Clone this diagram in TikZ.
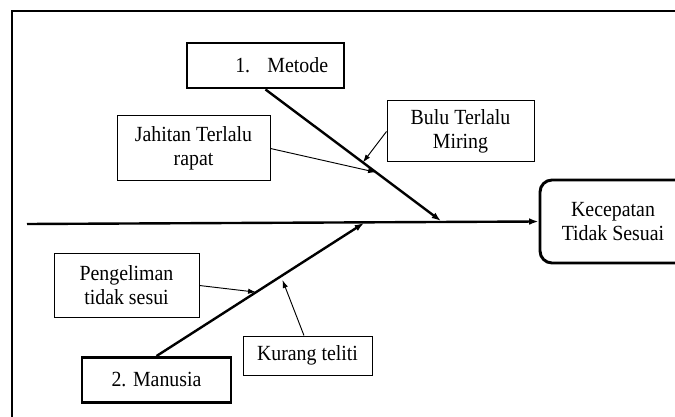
\documentclass[tikz,border=0pt]{standalone}
\usepackage{fontspec}
\setmainfont{Liberation Serif}[FakeStretch=0.92]
\usetikzlibrary{arrows.meta,calc,positioning}

\begin{document}
\begin{tikzpicture}[x=0.75pt,y=-0.75pt,
  font=\fontsize{16.2}{18}\selectfont,
  ukuran/.style 2 args={minimum width=#1*0.75pt,minimum height=#2*0.75pt},
  kotak/.style={draw,line width=0.75pt,align=center,inner sep=0pt},
  kategori/.style={kotak,line width=2.2pt},
  tulang/.style={line width=1.8pt,-{Latex[length=7pt,width=5pt]}},
  panah/.style={line width=0.7pt,-{Latex[length=6pt,width=4pt]}}]
%Koordinaten in Pixel des Bildes (675x417), y zeigt nach unten
\useasboundingbox (0,0) rectangle (675,417);
\draw[line width=1.1pt] (12,425) |- (685,11);
%Kopf und Ursachen
\node[kategori,rounded corners=9pt,ukuran={160}{83}] (kecepatan) at (620,221.5) {Kecepatan\hspace*{10.5pt}\\Tidak Sesuai\hspace*{10.5pt}};
\node[kategori,ukuran={157}{45}] (metode) at (265.5,65.5) {\hspace*{1.5em}1.\hspace{0.8em}Metode};
\node[kategori,ukuran={149}{45}] (manusia) at (156.5,380) {2. Manusia};
\node[kotak,ukuran={153}{65}] (jahitan) at (193.5,148.5) {Jahitan Terlalu\\rapat};
\node[kotak,ukuran={147}{61}] (bulu) at (460.5,131.5) {Bulu Terlalu\\Miring};
\node[kotak,ukuran={145}{63}] (pengeliman) at (126.5,285.5) {Pengeliman\\tidak sesui};
\node[kotak,ukuran={129}{39}] (kurang) at (307.5,355.5) {Kurang teliti};
%Gräten
\coordinate (ekor) at (27,224);
\coordinate (m1) at (441,221);
\coordinate (m2) at (364,223);
\draw[tulang] (ekor) -- (kecepatan.west);
\draw[tulang] (metode.south) -- (m1);
\draw[tulang] (manusia.north) -- (m2);
%Punkte auf den Gräten
\coordinate (j) at ($(metode.south)!0.63!(m1)$);
\coordinate (b) at ($(metode.south)!0.555!(m1)$);
\coordinate (p) at ($(manusia.north)!0.48!(m2)$);
\coordinate (k) at ($(manusia.north)!0.6!(m2)$);
\foreach \von/\nach in {jahitan.east/j,bulu.west/b,pengeliman.east/p}{
\draw[panah] (\von) -- (\nach);
}
\draw[panah,shorten >=3pt] (kurang.100) -- (k);
\end{tikzpicture}
\end{document}
